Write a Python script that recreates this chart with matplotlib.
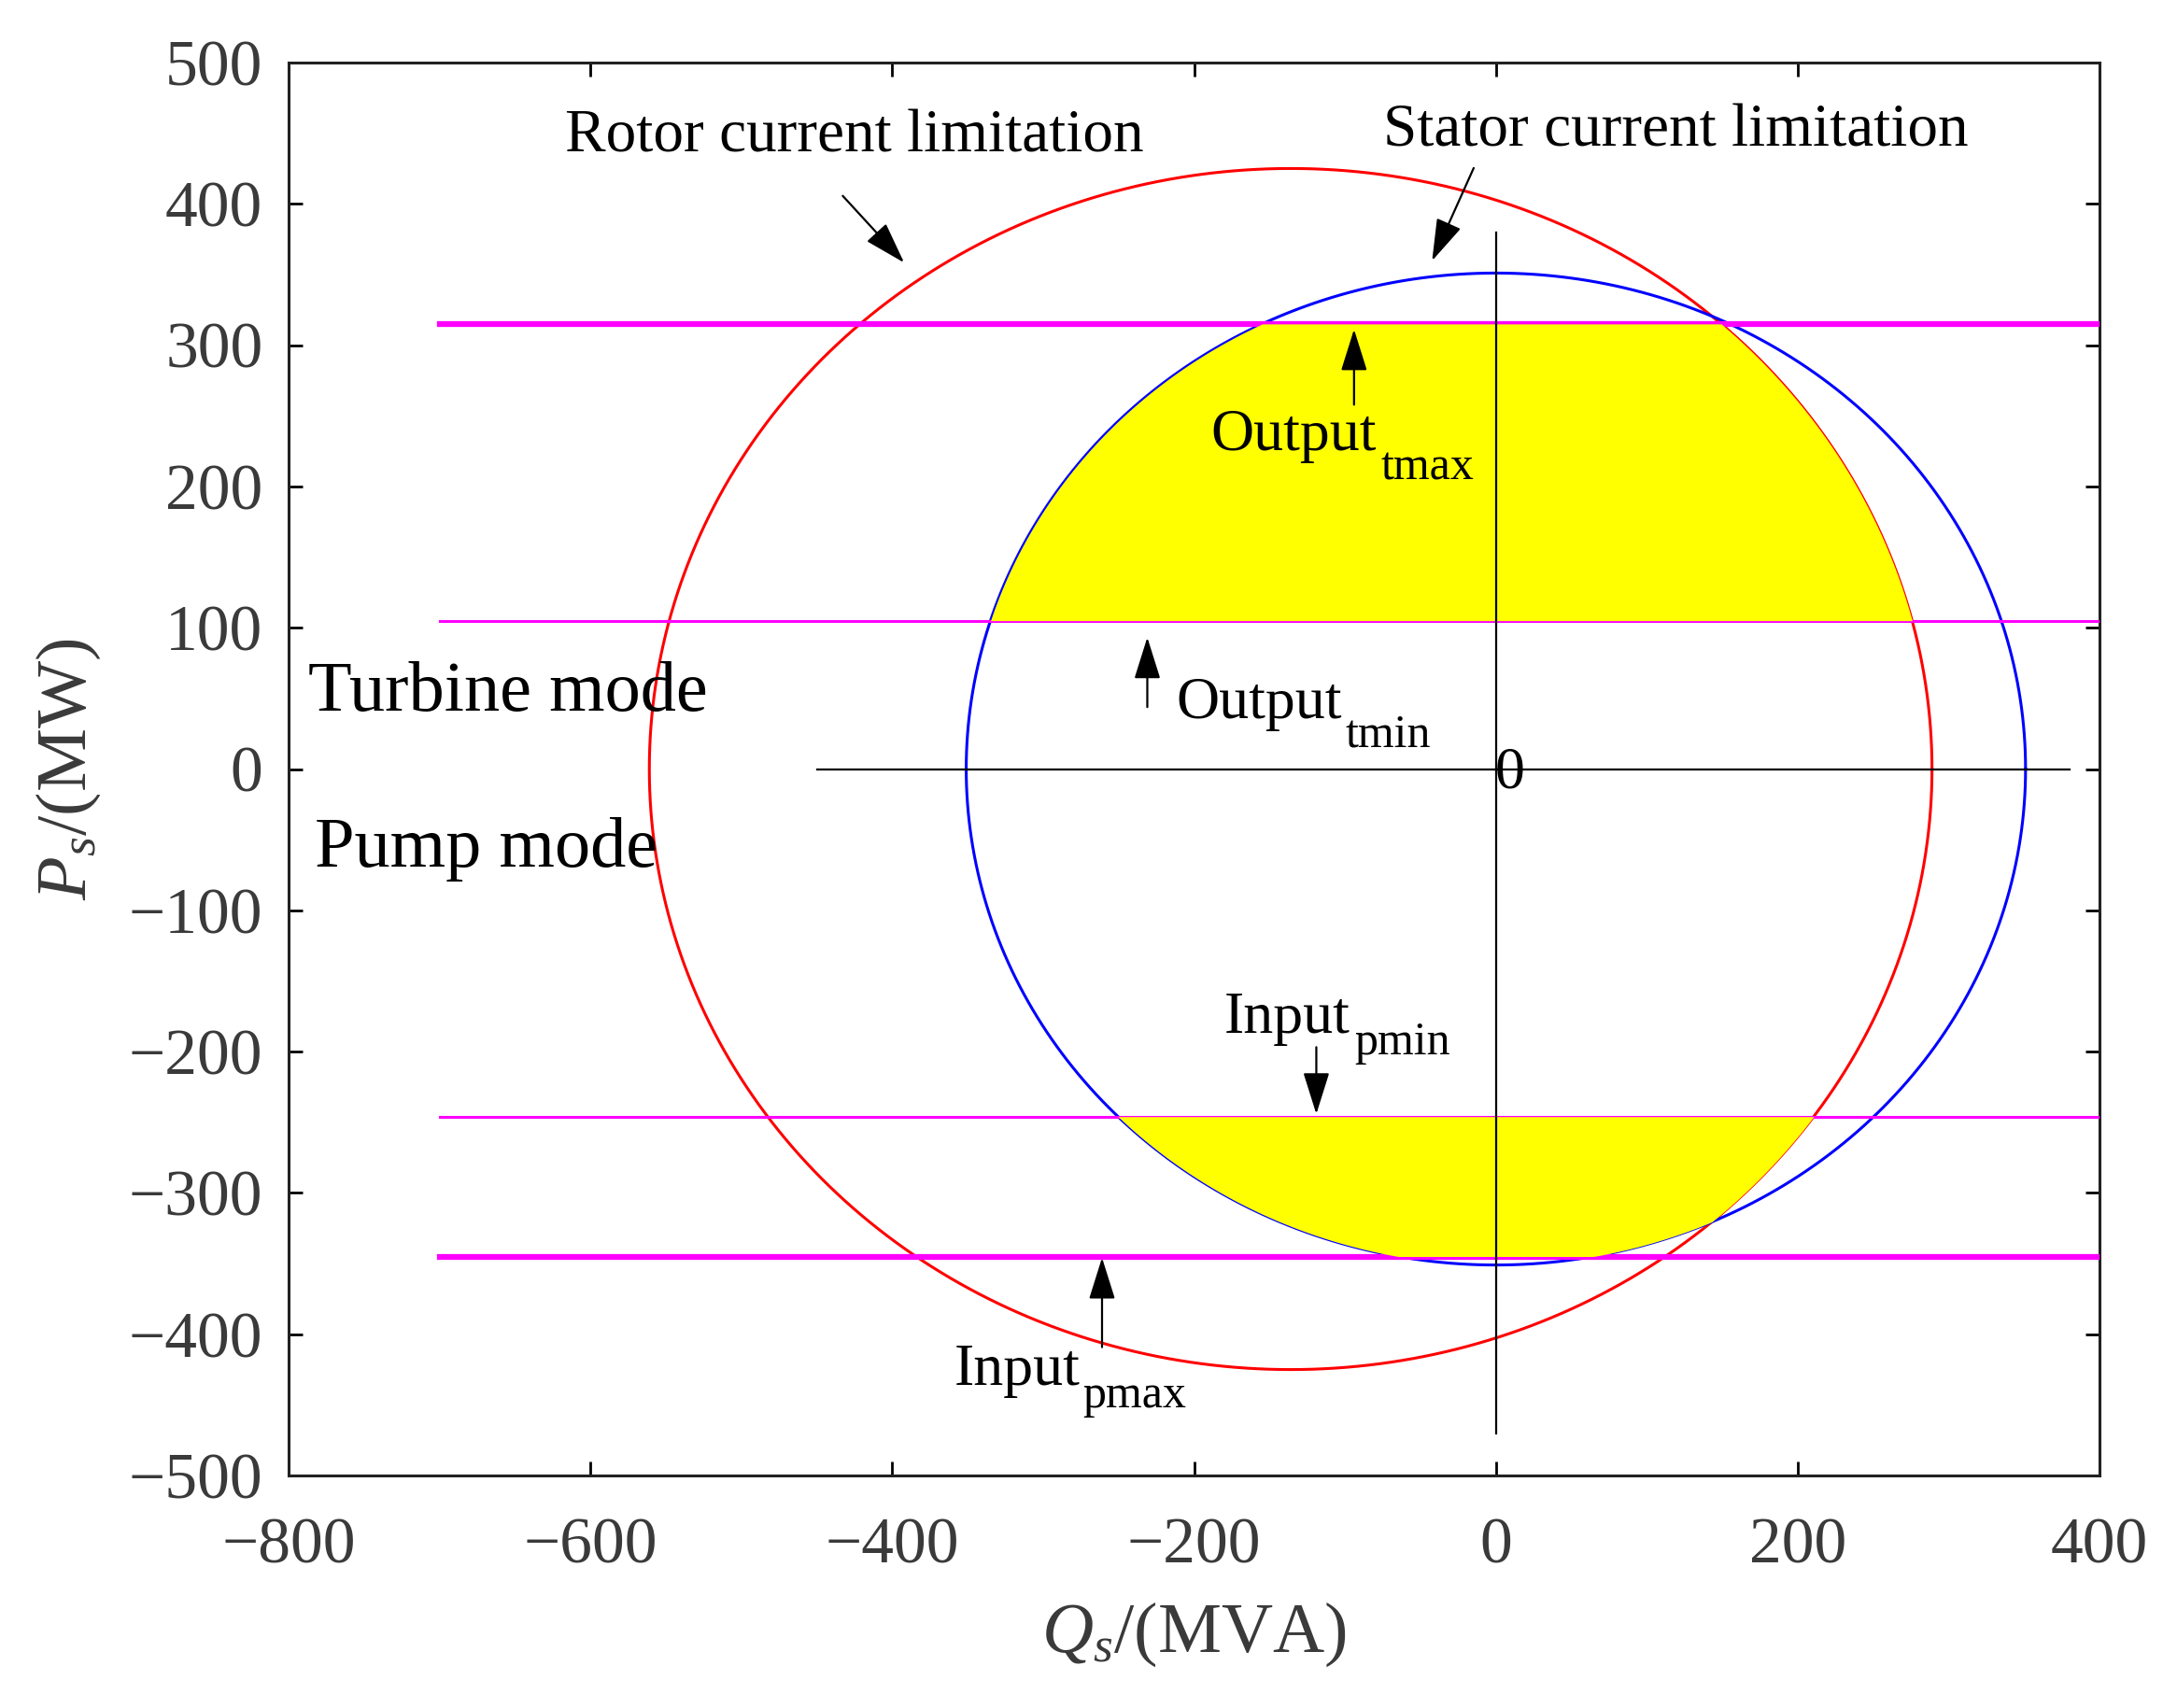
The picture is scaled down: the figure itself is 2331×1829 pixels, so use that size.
import numpy as np
import matplotlib
matplotlib.use('Agg')
import matplotlib.pyplot as plt

plt.rcParams['font.family'] = ['Liberation Serif', 'DejaVu Serif']
plt.rcParams['mathtext.fontset'] = 'custom'
plt.rcParams['mathtext.rm'] = 'Liberation Serif'
plt.rcParams['mathtext.it'] = 'Liberation Serif:italic'

# circle limits (center Q, center P, radius)
stator_circle = (0, 0, 351)
rotor_circle = (-136, 0, 425)

# power limits (MW)
output_tmax = 315
output_tmin = 105
input_pmin = -246
input_pmax = -345
limit_levels = [output_tmax, output_tmin, input_pmin, input_pmax]
limit_widths = [4.5, 2.2, 2.2, 4.5]
limit_start = -700

xticks = [-800, -600, -400, -200, 0, 200, 400]
yticks = [-500, -400, -300, -200, -100, 0, 100, 200, 300, 400, 500]

GRAY = '#3a3a3a'

fig = plt.figure(figsize=(23.31, 18.29), dpi=100)
ax = fig.add_axes([0.1326, 0.1361, 0.8318, 0.8273])

th = np.linspace(0, 2 * np.pi, 721)
for (cx, cy, r), col in [(rotor_circle, 'red'), (stator_circle, 'blue')]:
    ax.plot(cx + r * np.cos(th), cy + r * np.sin(th), color=col, lw=2.2, zorder=2)

for lv, lw in zip(limit_levels, limit_widths):
    ax.plot([limit_start, 400], [lv, lv], color='magenta', lw=lw, zorder=3)


def half_width(c, y):
    cx, cy, r = c
    return np.sqrt(np.clip(r ** 2 - (y - cy) ** 2, 0, None))


for lo, hi in [(output_tmin, output_tmax), (input_pmax, input_pmin)]:
    yy = np.linspace(lo, hi, 300)
    left = np.maximum(stator_circle[0] - half_width(stator_circle, yy),
                      rotor_circle[0] - half_width(rotor_circle, yy))
    right = np.minimum(stator_circle[0] + half_width(stator_circle, yy),
                       rotor_circle[0] + half_width(rotor_circle, yy))
    ax.fill_betweenx(yy, left, right, color='yellow', lw=0, zorder=4)

# coordinate cross
ax.plot([-450, 380], [0, 0], color='black', lw=1.6, zorder=5)
ax.plot([0, 0], [-470, 380], color='black', lw=1.6, zorder=5)
ax.text(9, -3, '0', fontsize=46, ha='center', va='center', zorder=6)

arw = dict(arrowstyle='-|>,head_length=0.7,head_width=0.22', color='black',
           lw=1.6, mutation_scale=40)
ax.annotate('', xy=(-391, 357), xytext=(-434, 407), arrowprops=arw, zorder=7)
ax.text(-425, 447, 'Rotor current limitation', fontsize=47, ha='center', va='center')
ax.annotate('', xy=(-43, 358), xytext=(-14, 427), arrowprops=arw, zorder=7)
ax.text(119, 451, 'Stator current limitation', fontsize=47, ha='center', va='center')

# limit labels: main word, subscript
labels = [('Output', 'tmax', (-189, 226), (-76, 205)),
          ('Output', 'tmin', (-212, 36), (-100, 16)),
          ('Input', 'pmin', (-180, -187), (-94, -202)),
          ('Input', 'pmax', (-359, -436), (-274, -452))]
for main, sub, p_main, p_sub in labels:
    ax.text(p_main[0], p_main[1], main, fontsize=46, ha='left', va='baseline', zorder=7)
    ax.text(p_sub[0], p_sub[1], sub, fontsize=36, ha='left', va='baseline', zorder=7)

ax.annotate('', xy=(-94, 313), xytext=(-94, 256), arrowprops=arw, zorder=7)
ax.annotate('', xy=(-231, 95), xytext=(-231, 42), arrowprops=arw, zorder=7)
ax.annotate('', xy=(-119, -246), xytext=(-119, -195), arrowprops=arw, zorder=7)
ax.annotate('', xy=(-261, -344), xytext=(-261, -411), arrowprops=arw, zorder=7)

ax.text(-787, 41, 'Turbine mode', fontsize=55, ha='left', va='baseline')
ax.text(-783, -69, 'Pump mode', fontsize=55, ha='left', va='baseline')

ax.set_xlim(-800, 400)
ax.set_ylim(-500, 500)
ax.set_xticks(xticks)
ax.set_yticks(yticks)
ax.set_xticklabels([str(t).replace('-', '\u2212') for t in xticks])
ax.set_yticklabels([str(t).replace('-', '\u2212') for t in yticks])
ax.tick_params(direction='in', top=True, right=True, length=11, width=2,
               labelsize=50, labelcolor=GRAY)
ax.tick_params(axis='x', pad=32)
ax.tick_params(axis='y', pad=20)
for s in ax.spines.values():
    s.set_linewidth(2.2)
    s.set_color('#222222')

ax.set_xlabel(r'$Q_s$/(MVA)', fontsize=55, color=GRAY, labelpad=18)
ax.set_ylabel(r'$P_s$/(MW)', fontsize=55, color=GRAY, labelpad=20)

plt.savefig('out.png', dpi=100)
